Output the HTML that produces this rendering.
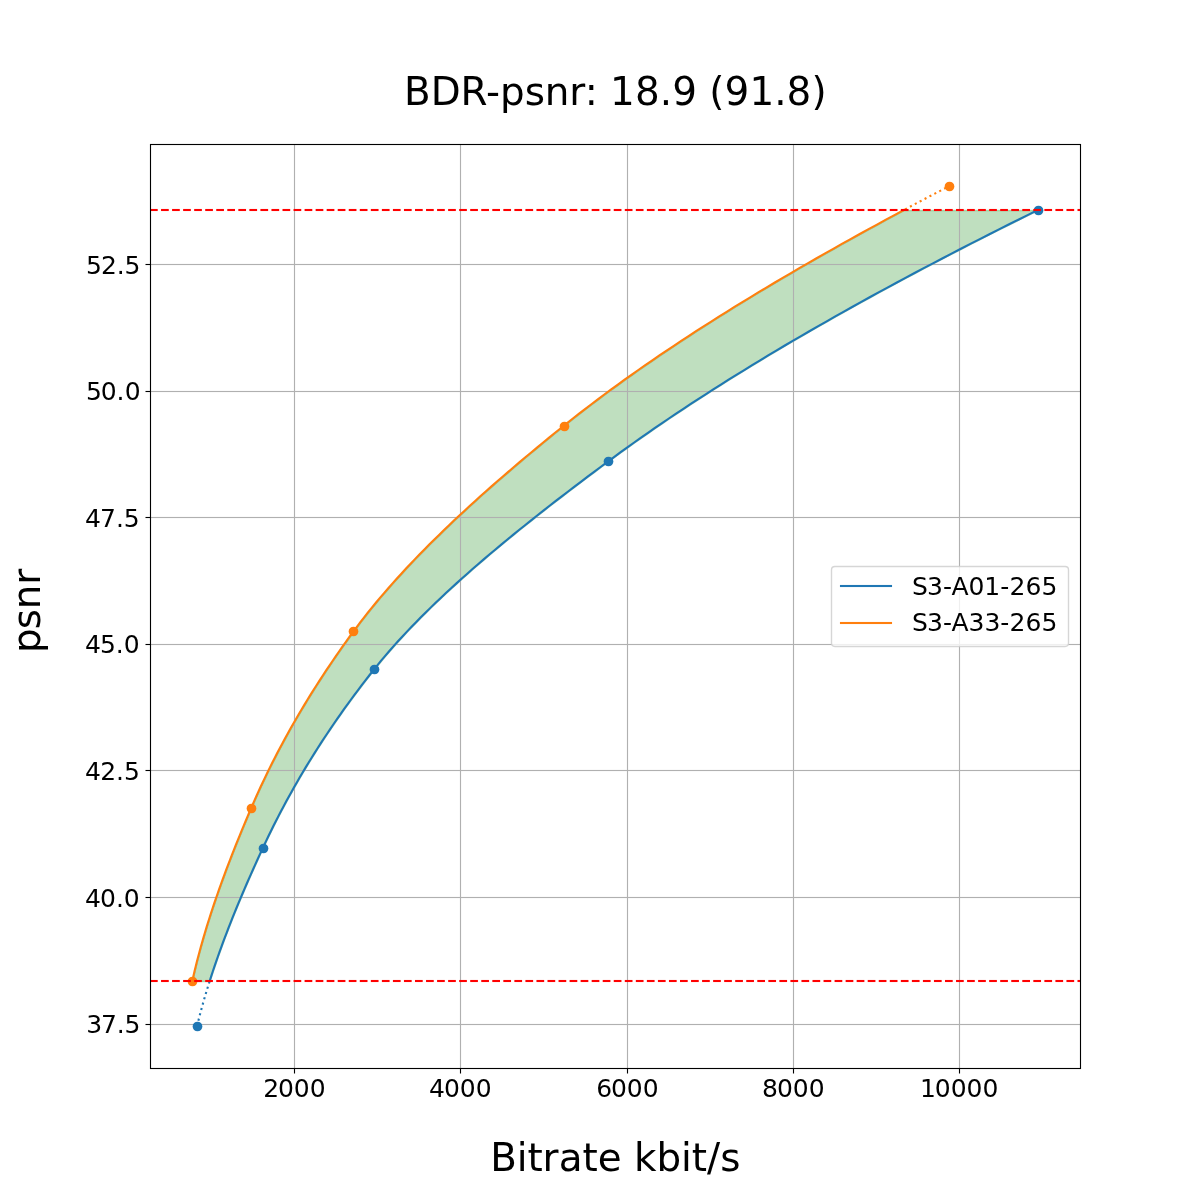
<!DOCTYPE html><html><head><meta charset="utf-8"><title>BDR-psnr</title><style>html,body{margin:0;padding:0;background:#fff}svg{display:block}text{font-family:"DejaVu Sans","Liberation Sans",sans-serif;fill:#000}.tk{font-size:25px}.lb{font-size:38.89px}</style></head><body>
<svg width="1200" height="1200" viewBox="0 0 1200 1200">
<rect width="1200" height="1200" fill="#fff"/>
<defs><clipPath id="ax"><rect x="150" y="144" width="931" height="925"/></clipPath></defs>
<g clip-path="url(#ax)">
<polygon transform="translate(0.5,0.5)" points="209.69,981.00 211.24,976.15 212.83,971.30 214.46,966.45 216.11,961.60 217.80,956.75 219.52,951.91 221.28,947.06 223.06,942.21 224.87,937.36 226.72,932.51 228.59,927.66 230.49,922.81 232.41,917.96 234.36,913.11 236.34,908.26 238.35,903.42 240.37,898.57 242.42,893.72 244.50,888.87 246.60,884.02 248.71,879.17 250.85,874.32 253.01,869.47 255.19,864.62 257.39,859.77 259.60,854.92 261.84,850.08 264.09,845.23 266.38,840.38 268.71,835.53 271.07,830.68 273.48,825.83 275.93,820.98 278.41,816.13 280.94,811.28 283.51,806.43 286.11,801.58 288.76,796.74 291.45,791.89 294.18,787.04 296.96,782.19 299.77,777.34 302.63,772.49 305.53,767.64 308.48,762.79 311.47,757.94 314.50,753.09 317.58,748.25 320.70,743.40 323.86,738.55 327.07,733.70 330.33,728.85 333.63,724.00 336.98,719.15 340.37,714.30 343.81,709.45 347.30,704.60 350.83,699.75 354.41,694.91 358.04,690.06 361.72,685.21 365.44,680.36 369.21,675.51 373.04,670.66 376.92,665.81 380.90,660.96 384.97,656.11 389.14,651.26 393.40,646.42 397.75,641.57 402.19,636.72 406.72,631.87 411.33,627.02 416.03,622.17 420.81,617.32 425.67,612.47 430.61,607.62 435.62,602.77 440.71,597.92 445.88,593.08 451.12,588.23 456.43,583.38 461.80,578.53 467.25,573.68 472.76,568.83 478.33,563.98 483.96,559.13 489.66,554.28 495.41,549.43 501.22,544.58 507.09,539.74 513.01,534.89 518.98,530.04 525.01,525.19 531.08,520.34 537.19,515.49 543.36,510.64 549.56,505.79 555.81,500.94 562.10,496.09 568.43,491.25 574.79,486.40 581.19,481.55 587.62,476.70 594.09,471.85 600.58,467.00 607.10,462.15 613.67,457.30 620.31,452.45 627.02,447.60 633.81,442.75 640.68,437.91 647.61,433.06 654.62,428.21 661.70,423.36 668.85,418.51 676.07,413.66 683.37,408.81 690.73,403.96 698.17,399.11 705.67,394.26 713.24,389.42 720.88,384.57 728.59,379.72 736.37,374.87 744.22,370.02 752.13,365.17 760.10,360.32 768.15,355.47 776.26,350.62 784.43,345.77 792.67,340.92 800.97,336.08 809.34,331.23 817.77,326.38 826.26,321.53 834.82,316.68 843.43,311.83 852.11,306.98 860.85,302.13 869.65,297.28 878.51,292.43 887.43,287.58 896.41,282.74 905.45,277.89 914.54,273.04 923.70,268.19 932.91,263.34 942.18,258.49 951.50,253.64 960.88,248.79 970.32,243.94 979.81,239.09 989.36,234.25 998.96,229.40 1008.61,224.55 1018.32,219.70 1028.08,214.85 1037.90,210.00 903.91,210.00 894.87,214.85 885.89,219.70 876.97,224.55 868.10,229.40 859.29,234.25 850.54,239.09 841.84,243.94 833.21,248.79 824.64,253.64 816.12,258.49 807.67,263.34 799.28,268.19 790.95,273.04 782.68,277.89 774.48,282.74 766.34,287.58 758.26,292.43 750.25,297.28 742.31,302.13 734.43,306.98 726.62,311.83 718.87,316.68 711.20,321.53 703.59,326.38 696.05,331.23 688.58,336.08 681.18,340.92 673.86,345.77 666.60,350.62 659.42,355.47 652.31,360.32 645.27,365.17 638.31,370.02 631.42,374.87 624.61,379.72 617.87,384.57 611.21,389.42 604.63,394.26 598.12,399.11 591.69,403.96 585.34,408.81 579.07,413.66 572.88,418.51 566.77,423.36 560.74,428.21 554.74,433.06 548.79,437.91 542.87,442.75 536.99,447.60 531.15,452.45 525.35,457.30 519.59,462.15 513.88,467.00 508.21,471.85 502.58,476.70 497.00,481.55 491.47,486.40 485.99,491.25 480.56,496.09 475.18,500.94 469.85,505.79 464.57,510.64 459.35,515.49 454.18,520.34 449.07,525.19 444.02,530.04 439.03,534.89 434.09,539.74 429.22,544.58 424.40,549.43 419.65,554.28 414.97,559.13 410.35,563.98 405.79,568.83 401.31,573.68 396.89,578.53 392.54,583.38 388.26,588.23 384.05,593.08 379.92,597.92 375.86,602.77 371.87,607.62 367.96,612.47 364.13,617.32 360.38,622.17 356.70,627.02 353.11,631.87 349.57,636.72 346.08,641.57 342.63,646.42 339.22,651.26 335.85,656.11 332.53,660.96 329.25,665.81 326.00,670.66 322.81,675.51 319.65,680.36 316.53,685.21 313.46,690.06 310.42,694.91 307.43,699.75 304.48,704.60 301.57,709.45 298.70,714.30 295.87,719.15 293.09,724.00 290.34,728.85 287.63,733.70 284.97,738.55 282.34,743.40 279.76,748.25 277.21,753.09 274.71,757.94 272.24,762.79 269.82,767.64 267.43,772.49 265.09,777.34 262.78,782.19 260.51,787.04 258.29,791.89 256.10,796.74 253.95,801.58 251.84,806.43 249.77,811.28 247.71,816.13 245.67,820.98 243.64,825.83 241.64,830.68 239.65,835.53 237.68,840.38 235.74,845.23 233.81,850.08 231.91,854.92 230.02,859.77 228.17,864.62 226.33,869.47 224.52,874.32 222.74,879.17 220.98,884.02 219.24,888.87 217.54,893.72 215.86,898.57 214.21,903.42 212.59,908.26 211.00,913.11 209.44,917.96 207.91,922.81 206.42,927.66 204.96,932.51 203.53,937.36 202.13,942.21 200.77,947.06 199.44,951.91 198.16,956.75 196.90,961.60 195.69,966.45 194.51,971.30 193.37,976.15 192.28,981.00" fill="#008000" fill-opacity="0.25" stroke="#008000" stroke-opacity="0.25" stroke-width="1.389" stroke-linejoin="round"/>
<g fill="#b0b0b0">
<rect x="293.937" y="144.5" width="1.126" height="924.0"/>
<rect x="459.937" y="144.5" width="1.126" height="924.0"/>
<rect x="626.937" y="144.5" width="1.126" height="924.0"/>
<rect x="792.937" y="144.5" width="1.126" height="924.0"/>
<rect x="958.937" y="144.5" width="1.126" height="924.0"/>
<rect x="150.5" y="263.937" width="930.0" height="1.126"/>
<rect x="150.5" y="390.937" width="930.0" height="1.126"/>
<rect x="150.5" y="516.937" width="930.0" height="1.126"/>
<rect x="150.5" y="643.937" width="930.0" height="1.126"/>
<rect x="150.5" y="769.937" width="930.0" height="1.126"/>
<rect x="150.5" y="896.937" width="930.0" height="1.126"/>
<rect x="150.5" y="1023.937" width="930.0" height="1.126"/>
</g>
<g fill="none" stroke-width="2.083" stroke-linejoin="round">
<polyline points="209.69,981.00 211.24,976.15 212.83,971.30 214.46,966.45 216.11,961.60 217.80,956.75 219.52,951.91 221.28,947.06 223.06,942.21 224.87,937.36 226.72,932.51 228.59,927.66 230.49,922.81 232.41,917.96 234.36,913.11 236.34,908.26 238.35,903.42 240.37,898.57 242.42,893.72 244.50,888.87 246.60,884.02 248.71,879.17 250.85,874.32 253.01,869.47 255.19,864.62 257.39,859.77 259.60,854.92 261.84,850.08 264.09,845.23 266.38,840.38 268.71,835.53 271.07,830.68 273.48,825.83 275.93,820.98 278.41,816.13 280.94,811.28 283.51,806.43 286.11,801.58 288.76,796.74 291.45,791.89 294.18,787.04 296.96,782.19 299.77,777.34 302.63,772.49 305.53,767.64 308.48,762.79 311.47,757.94 314.50,753.09 317.58,748.25 320.70,743.40 323.86,738.55 327.07,733.70 330.33,728.85 333.63,724.00 336.98,719.15 340.37,714.30 343.81,709.45 347.30,704.60 350.83,699.75 354.41,694.91 358.04,690.06 361.72,685.21 365.44,680.36 369.21,675.51 373.04,670.66 376.92,665.81 380.90,660.96 384.97,656.11 389.14,651.26 393.40,646.42 397.75,641.57 402.19,636.72 406.72,631.87 411.33,627.02 416.03,622.17 420.81,617.32 425.67,612.47 430.61,607.62 435.62,602.77 440.71,597.92 445.88,593.08 451.12,588.23 456.43,583.38 461.80,578.53 467.25,573.68 472.76,568.83 478.33,563.98 483.96,559.13 489.66,554.28 495.41,549.43 501.22,544.58 507.09,539.74 513.01,534.89 518.98,530.04 525.01,525.19 531.08,520.34 537.19,515.49 543.36,510.64 549.56,505.79 555.81,500.94 562.10,496.09 568.43,491.25 574.79,486.40 581.19,481.55 587.62,476.70 594.09,471.85 600.58,467.00 607.10,462.15 613.67,457.30 620.31,452.45 627.02,447.60 633.81,442.75 640.68,437.91 647.61,433.06 654.62,428.21 661.70,423.36 668.85,418.51 676.07,413.66 683.37,408.81 690.73,403.96 698.17,399.11 705.67,394.26 713.24,389.42 720.88,384.57 728.59,379.72 736.37,374.87 744.22,370.02 752.13,365.17 760.10,360.32 768.15,355.47 776.26,350.62 784.43,345.77 792.67,340.92 800.97,336.08 809.34,331.23 817.77,326.38 826.26,321.53 834.82,316.68 843.43,311.83 852.11,306.98 860.85,302.13 869.65,297.28 878.51,292.43 887.43,287.58 896.41,282.74 905.45,277.89 914.54,273.04 923.70,268.19 932.91,263.34 942.18,258.49 951.50,253.64 960.88,248.79 970.32,243.94 979.81,239.09 989.36,234.25 998.96,229.40 1008.61,224.55 1018.32,219.70 1028.08,214.85 1037.90,210.00" stroke="#1f77b4" stroke-linecap="square"/>
<polyline points="192.28,981.00 193.37,976.15 194.51,971.30 195.69,966.45 196.90,961.60 198.16,956.75 199.44,951.91 200.77,947.06 202.13,942.21 203.53,937.36 204.96,932.51 206.42,927.66 207.91,922.81 209.44,917.96 211.00,913.11 212.59,908.26 214.21,903.42 215.86,898.57 217.54,893.72 219.24,888.87 220.98,884.02 222.74,879.17 224.52,874.32 226.33,869.47 228.17,864.62 230.02,859.77 231.91,854.92 233.81,850.08 235.74,845.23 237.68,840.38 239.65,835.53 241.64,830.68 243.64,825.83 245.67,820.98 247.71,816.13 249.77,811.28 251.84,806.43 253.95,801.58 256.10,796.74 258.29,791.89 260.51,787.04 262.78,782.19 265.09,777.34 267.43,772.49 269.82,767.64 272.24,762.79 274.71,757.94 277.21,753.09 279.76,748.25 282.34,743.40 284.97,738.55 287.63,733.70 290.34,728.85 293.09,724.00 295.87,719.15 298.70,714.30 301.57,709.45 304.48,704.60 307.43,699.75 310.42,694.91 313.46,690.06 316.53,685.21 319.65,680.36 322.81,675.51 326.00,670.66 329.25,665.81 332.53,660.96 335.85,656.11 339.22,651.26 342.63,646.42 346.08,641.57 349.57,636.72 353.11,631.87 356.70,627.02 360.38,622.17 364.13,617.32 367.96,612.47 371.87,607.62 375.86,602.77 379.92,597.92 384.05,593.08 388.26,588.23 392.54,583.38 396.89,578.53 401.31,573.68 405.79,568.83 410.35,563.98 414.97,559.13 419.65,554.28 424.40,549.43 429.22,544.58 434.09,539.74 439.03,534.89 444.02,530.04 449.07,525.19 454.18,520.34 459.35,515.49 464.57,510.64 469.85,505.79 475.18,500.94 480.56,496.09 485.99,491.25 491.47,486.40 497.00,481.55 502.58,476.70 508.21,471.85 513.88,467.00 519.59,462.15 525.35,457.30 531.15,452.45 536.99,447.60 542.87,442.75 548.79,437.91 554.74,433.06 560.74,428.21 566.77,423.36 572.88,418.51 579.07,413.66 585.34,408.81 591.69,403.96 598.12,399.11 604.63,394.26 611.21,389.42 617.87,384.57 624.61,379.72 631.42,374.87 638.31,370.02 645.27,365.17 652.31,360.32 659.42,355.47 666.60,350.62 673.86,345.77 681.18,340.92 688.58,336.08 696.05,331.23 703.59,326.38 711.20,321.53 718.87,316.68 726.62,311.83 734.43,306.98 742.31,302.13 750.25,297.28 758.26,292.43 766.34,287.58 774.48,282.74 782.68,277.89 790.95,273.04 799.28,268.19 807.67,263.34 816.12,258.49 824.64,253.64 833.21,248.79 841.84,243.94 850.54,239.09 859.29,234.25 868.10,229.40 876.97,224.55 885.89,219.70 894.87,214.85 903.91,210.00" stroke="#ff7f0e" stroke-linecap="square"/>
<polyline points="197.05,1026.00 198.06,1021.91 199.10,1017.82 200.16,1013.73 201.26,1009.64 202.38,1005.55 203.53,1001.45 204.71,997.36 205.92,993.27 207.15,989.18 208.41,985.09 209.69,981.00" stroke="#1f77b4" stroke-dasharray="2.083 3.4375"/>
<polyline points="903.91,210.00 907.99,207.82 912.09,205.64 916.19,203.45 920.31,201.27 924.44,199.09 928.58,196.91 932.73,194.73 936.89,192.55 941.06,190.36 945.24,188.18 949.43,186.00" stroke="#ff7f0e" stroke-dasharray="2.083 3.4375" stroke-dashoffset="-1.34"/>
</g>
<circle cx="197.5" cy="1026.5" r="4.86" fill="#1f77b4"/>
<circle cx="263.5" cy="848.5" r="4.86" fill="#1f77b4"/>
<circle cx="374.5" cy="669.5" r="4.86" fill="#1f77b4"/>
<circle cx="608.5" cy="461.5" r="4.86" fill="#1f77b4"/>
<circle cx="1038.5" cy="210.5" r="4.86" fill="#1f77b4"/>
<circle cx="192.5" cy="981.5" r="4.86" fill="#ff7f0e"/>
<circle cx="251.5" cy="808.5" r="4.86" fill="#ff7f0e"/>
<circle cx="353.5" cy="631.5" r="4.86" fill="#ff7f0e"/>
<circle cx="564.5" cy="426.5" r="4.86" fill="#ff7f0e"/>
<circle cx="949.5" cy="186.5" r="4.86" fill="#ff7f0e"/>
<g fill="#ff0000">
<rect x="150.000" y="208.958" width="7.708" height="2.083"/>
<rect x="161.042" y="208.958" width="7.708" height="2.083"/>
<rect x="172.083" y="208.958" width="7.708" height="2.083"/>
<rect x="183.125" y="208.958" width="7.708" height="2.083"/>
<rect x="194.166" y="208.958" width="7.708" height="2.083"/>
<rect x="205.208" y="208.958" width="7.708" height="2.083"/>
<rect x="216.250" y="208.958" width="7.708" height="2.083"/>
<rect x="227.291" y="208.958" width="7.708" height="2.083"/>
<rect x="238.333" y="208.958" width="7.708" height="2.083"/>
<rect x="249.374" y="208.958" width="7.708" height="2.083"/>
<rect x="260.416" y="208.958" width="7.708" height="2.083"/>
<rect x="271.458" y="208.958" width="7.708" height="2.083"/>
<rect x="282.499" y="208.958" width="7.708" height="2.083"/>
<rect x="293.541" y="208.958" width="7.708" height="2.083"/>
<rect x="304.582" y="208.958" width="7.708" height="2.083"/>
<rect x="315.624" y="208.958" width="7.708" height="2.083"/>
<rect x="326.666" y="208.958" width="7.708" height="2.083"/>
<rect x="337.707" y="208.958" width="7.708" height="2.083"/>
<rect x="348.749" y="208.958" width="7.708" height="2.083"/>
<rect x="359.790" y="208.958" width="7.708" height="2.083"/>
<rect x="370.832" y="208.958" width="7.708" height="2.083"/>
<rect x="381.874" y="208.958" width="7.708" height="2.083"/>
<rect x="392.915" y="208.958" width="7.708" height="2.083"/>
<rect x="403.957" y="208.958" width="7.708" height="2.083"/>
<rect x="414.998" y="208.958" width="7.708" height="2.083"/>
<rect x="426.040" y="208.958" width="7.708" height="2.083"/>
<rect x="437.082" y="208.958" width="7.708" height="2.083"/>
<rect x="448.123" y="208.958" width="7.708" height="2.083"/>
<rect x="459.165" y="208.958" width="7.708" height="2.083"/>
<rect x="470.206" y="208.958" width="7.708" height="2.083"/>
<rect x="481.248" y="208.958" width="7.708" height="2.083"/>
<rect x="492.290" y="208.958" width="7.708" height="2.083"/>
<rect x="503.331" y="208.958" width="7.708" height="2.083"/>
<rect x="514.373" y="208.958" width="7.708" height="2.083"/>
<rect x="525.414" y="208.958" width="7.708" height="2.083"/>
<rect x="536.456" y="208.958" width="7.708" height="2.083"/>
<rect x="547.498" y="208.958" width="7.708" height="2.083"/>
<rect x="558.539" y="208.958" width="7.708" height="2.083"/>
<rect x="569.581" y="208.958" width="7.708" height="2.083"/>
<rect x="580.622" y="208.958" width="7.708" height="2.083"/>
<rect x="591.664" y="208.958" width="7.708" height="2.083"/>
<rect x="602.706" y="208.958" width="7.708" height="2.083"/>
<rect x="613.747" y="208.958" width="7.708" height="2.083"/>
<rect x="624.789" y="208.958" width="7.708" height="2.083"/>
<rect x="635.830" y="208.958" width="7.708" height="2.083"/>
<rect x="646.872" y="208.958" width="7.708" height="2.083"/>
<rect x="657.914" y="208.958" width="7.708" height="2.083"/>
<rect x="668.955" y="208.958" width="7.708" height="2.083"/>
<rect x="679.997" y="208.958" width="7.708" height="2.083"/>
<rect x="691.038" y="208.958" width="7.708" height="2.083"/>
<rect x="702.080" y="208.958" width="7.708" height="2.083"/>
<rect x="713.122" y="208.958" width="7.708" height="2.083"/>
<rect x="724.163" y="208.958" width="7.708" height="2.083"/>
<rect x="735.205" y="208.958" width="7.708" height="2.083"/>
<rect x="746.246" y="208.958" width="7.708" height="2.083"/>
<rect x="757.288" y="208.958" width="7.708" height="2.083"/>
<rect x="768.330" y="208.958" width="7.708" height="2.083"/>
<rect x="779.371" y="208.958" width="7.708" height="2.083"/>
<rect x="790.413" y="208.958" width="7.708" height="2.083"/>
<rect x="801.454" y="208.958" width="7.708" height="2.083"/>
<rect x="812.496" y="208.958" width="7.708" height="2.083"/>
<rect x="823.538" y="208.958" width="7.708" height="2.083"/>
<rect x="834.579" y="208.958" width="7.708" height="2.083"/>
<rect x="845.621" y="208.958" width="7.708" height="2.083"/>
<rect x="856.662" y="208.958" width="7.708" height="2.083"/>
<rect x="867.704" y="208.958" width="7.708" height="2.083"/>
<rect x="878.746" y="208.958" width="7.708" height="2.083"/>
<rect x="889.787" y="208.958" width="7.708" height="2.083"/>
<rect x="900.829" y="208.958" width="7.708" height="2.083"/>
<rect x="911.870" y="208.958" width="7.708" height="2.083"/>
<rect x="922.912" y="208.958" width="7.708" height="2.083"/>
<rect x="933.954" y="208.958" width="7.708" height="2.083"/>
<rect x="944.995" y="208.958" width="7.708" height="2.083"/>
<rect x="956.037" y="208.958" width="7.708" height="2.083"/>
<rect x="967.078" y="208.958" width="7.708" height="2.083"/>
<rect x="978.120" y="208.958" width="7.708" height="2.083"/>
<rect x="989.162" y="208.958" width="7.708" height="2.083"/>
<rect x="1000.203" y="208.958" width="7.708" height="2.083"/>
<rect x="1011.245" y="208.958" width="7.708" height="2.083"/>
<rect x="1022.286" y="208.958" width="7.708" height="2.083"/>
<rect x="1033.328" y="208.958" width="7.708" height="2.083"/>
<rect x="1044.370" y="208.958" width="7.708" height="2.083"/>
<rect x="1055.411" y="208.958" width="7.708" height="2.083"/>
<rect x="1066.453" y="208.958" width="7.708" height="2.083"/>
<rect x="1077.494" y="208.958" width="3.506" height="2.083"/>
<rect x="150.000" y="979.958" width="7.708" height="2.083"/>
<rect x="161.042" y="979.958" width="7.708" height="2.083"/>
<rect x="172.083" y="979.958" width="7.708" height="2.083"/>
<rect x="183.125" y="979.958" width="7.708" height="2.083"/>
<rect x="194.166" y="979.958" width="7.708" height="2.083"/>
<rect x="205.208" y="979.958" width="7.708" height="2.083"/>
<rect x="216.250" y="979.958" width="7.708" height="2.083"/>
<rect x="227.291" y="979.958" width="7.708" height="2.083"/>
<rect x="238.333" y="979.958" width="7.708" height="2.083"/>
<rect x="249.374" y="979.958" width="7.708" height="2.083"/>
<rect x="260.416" y="979.958" width="7.708" height="2.083"/>
<rect x="271.458" y="979.958" width="7.708" height="2.083"/>
<rect x="282.499" y="979.958" width="7.708" height="2.083"/>
<rect x="293.541" y="979.958" width="7.708" height="2.083"/>
<rect x="304.582" y="979.958" width="7.708" height="2.083"/>
<rect x="315.624" y="979.958" width="7.708" height="2.083"/>
<rect x="326.666" y="979.958" width="7.708" height="2.083"/>
<rect x="337.707" y="979.958" width="7.708" height="2.083"/>
<rect x="348.749" y="979.958" width="7.708" height="2.083"/>
<rect x="359.790" y="979.958" width="7.708" height="2.083"/>
<rect x="370.832" y="979.958" width="7.708" height="2.083"/>
<rect x="381.874" y="979.958" width="7.708" height="2.083"/>
<rect x="392.915" y="979.958" width="7.708" height="2.083"/>
<rect x="403.957" y="979.958" width="7.708" height="2.083"/>
<rect x="414.998" y="979.958" width="7.708" height="2.083"/>
<rect x="426.040" y="979.958" width="7.708" height="2.083"/>
<rect x="437.082" y="979.958" width="7.708" height="2.083"/>
<rect x="448.123" y="979.958" width="7.708" height="2.083"/>
<rect x="459.165" y="979.958" width="7.708" height="2.083"/>
<rect x="470.206" y="979.958" width="7.708" height="2.083"/>
<rect x="481.248" y="979.958" width="7.708" height="2.083"/>
<rect x="492.290" y="979.958" width="7.708" height="2.083"/>
<rect x="503.331" y="979.958" width="7.708" height="2.083"/>
<rect x="514.373" y="979.958" width="7.708" height="2.083"/>
<rect x="525.414" y="979.958" width="7.708" height="2.083"/>
<rect x="536.456" y="979.958" width="7.708" height="2.083"/>
<rect x="547.498" y="979.958" width="7.708" height="2.083"/>
<rect x="558.539" y="979.958" width="7.708" height="2.083"/>
<rect x="569.581" y="979.958" width="7.708" height="2.083"/>
<rect x="580.622" y="979.958" width="7.708" height="2.083"/>
<rect x="591.664" y="979.958" width="7.708" height="2.083"/>
<rect x="602.706" y="979.958" width="7.708" height="2.083"/>
<rect x="613.747" y="979.958" width="7.708" height="2.083"/>
<rect x="624.789" y="979.958" width="7.708" height="2.083"/>
<rect x="635.830" y="979.958" width="7.708" height="2.083"/>
<rect x="646.872" y="979.958" width="7.708" height="2.083"/>
<rect x="657.914" y="979.958" width="7.708" height="2.083"/>
<rect x="668.955" y="979.958" width="7.708" height="2.083"/>
<rect x="679.997" y="979.958" width="7.708" height="2.083"/>
<rect x="691.038" y="979.958" width="7.708" height="2.083"/>
<rect x="702.080" y="979.958" width="7.708" height="2.083"/>
<rect x="713.122" y="979.958" width="7.708" height="2.083"/>
<rect x="724.163" y="979.958" width="7.708" height="2.083"/>
<rect x="735.205" y="979.958" width="7.708" height="2.083"/>
<rect x="746.246" y="979.958" width="7.708" height="2.083"/>
<rect x="757.288" y="979.958" width="7.708" height="2.083"/>
<rect x="768.330" y="979.958" width="7.708" height="2.083"/>
<rect x="779.371" y="979.958" width="7.708" height="2.083"/>
<rect x="790.413" y="979.958" width="7.708" height="2.083"/>
<rect x="801.454" y="979.958" width="7.708" height="2.083"/>
<rect x="812.496" y="979.958" width="7.708" height="2.083"/>
<rect x="823.538" y="979.958" width="7.708" height="2.083"/>
<rect x="834.579" y="979.958" width="7.708" height="2.083"/>
<rect x="845.621" y="979.958" width="7.708" height="2.083"/>
<rect x="856.662" y="979.958" width="7.708" height="2.083"/>
<rect x="867.704" y="979.958" width="7.708" height="2.083"/>
<rect x="878.746" y="979.958" width="7.708" height="2.083"/>
<rect x="889.787" y="979.958" width="7.708" height="2.083"/>
<rect x="900.829" y="979.958" width="7.708" height="2.083"/>
<rect x="911.870" y="979.958" width="7.708" height="2.083"/>
<rect x="922.912" y="979.958" width="7.708" height="2.083"/>
<rect x="933.954" y="979.958" width="7.708" height="2.083"/>
<rect x="944.995" y="979.958" width="7.708" height="2.083"/>
<rect x="956.037" y="979.958" width="7.708" height="2.083"/>
<rect x="967.078" y="979.958" width="7.708" height="2.083"/>
<rect x="978.120" y="979.958" width="7.708" height="2.083"/>
<rect x="989.162" y="979.958" width="7.708" height="2.083"/>
<rect x="1000.203" y="979.958" width="7.708" height="2.083"/>
<rect x="1011.245" y="979.958" width="7.708" height="2.083"/>
<rect x="1022.286" y="979.958" width="7.708" height="2.083"/>
<rect x="1033.328" y="979.958" width="7.708" height="2.083"/>
<rect x="1044.370" y="979.958" width="7.708" height="2.083"/>
<rect x="1055.411" y="979.958" width="7.708" height="2.083"/>
<rect x="1066.453" y="979.958" width="7.708" height="2.083"/>
<rect x="1077.494" y="979.958" width="3.506" height="2.083"/>
</g>
</g>
<g fill="#000">
<rect x="293.945" y="1068.5" width="1.111" height="5"/>
<rect x="459.945" y="1068.5" width="1.111" height="5"/>
<rect x="626.944" y="1068.5" width="1.111" height="5"/>
<rect x="792.944" y="1068.5" width="1.111" height="5"/>
<rect x="958.944" y="1068.5" width="1.111" height="5"/>
<rect x="145.5" y="263.945" width="5" height="1.111"/>
<rect x="145.5" y="390.945" width="5" height="1.111"/>
<rect x="145.5" y="516.944" width="5" height="1.111"/>
<rect x="145.5" y="643.944" width="5" height="1.111"/>
<rect x="145.5" y="769.944" width="5" height="1.111"/>
<rect x="145.5" y="896.944" width="5" height="1.111"/>
<rect x="145.5" y="1023.944" width="5" height="1.111"/>
</g>
<rect x="150.5" y="144.5" width="930.0" height="924.0" fill="none" stroke="#000" stroke-width="1.11" stroke-linejoin="miter"/>
<text id="x294" class="tk" x="263.19 278.10 293.85 309.74" y="1097.00">2000</text>
<text id="x460" class="tk" x="429.12 444.10 459.85 475.74" y="1097.00">4000</text>
<text id="x627" class="tk" x="596.13 611.10 626.85 642.74" y="1097.00">6000</text>
<text id="x793" class="tk" x="762.12 777.10 792.85 808.74" y="1097.00">8000</text>
<text id="x959" class="tk" x="920.00 934.83 950.72 966.61 982.45" y="1097.00">10000</text>
<text id="y264" class="tk" x="85.94 100.88 116.66 124.62" y="274.00">52.5</text>
<text id="y391" class="tk" x="85.94 100.76 116.60 124.68" y="400.00">50.0</text>
<text id="y517" class="tk" x="85.08 100.02 115.93 123.86" y="527.00">47.5</text>
<text id="y644" class="tk" x="85.08 99.96 115.66 123.86" y="653.00">45.0</text>
<text id="y770" class="tk" x="85.08 100.17 115.95 123.94" y="780.00">42.5</text>
<text id="y897" class="tk" x="85.08 99.94 115.93 123.86" y="907.00">40.0</text>
<text id="y1024" class="tk" x="86.14 100.92 116.66 124.62" y="1033.00">37.5</text>
<text id="title" class="lb" x="404.06 430.67 460.62 486.05 500.08 524.73 544.84 569.30 584.69 597.81 610.09 634.95 659.71 672.15 696.89 709.32 724.62 749.38 774.17 786.61 811.43" y="105.00">BDR-psnr: 18.9 (91.8)</text>
<text id="xlabel" class="lb" x="490.17 516.69 527.41 542.49 558.67 582.48 597.77 621.70 634.00 656.55 681.07 691.73 706.98 720.14" y="1171.00">Bitrate kbit/s</text>
<text id="ylabel" class="lb" transform="translate(40.00,0) rotate(-90)" x="-652.91 -629.32 -609.17 -584.64" y="0">psnr</text>
<rect x="831.5" y="566.5" width="237.0" height="80.0" rx="3.4" ry="3.4" fill="#fff" fill-opacity="0.8" stroke="#ccc" stroke-opacity="0.8" stroke-width="1.39"/>
<rect x="839.958" y="584.958" width="52.083" height="2.083" fill="#1f77b4"/>
<rect x="839.958" y="621.958" width="52.083" height="2.083" fill="#ff7f0e"/>
<text id="leg1" class="tk" x="912.04 926.88 942.95 951.42 968.58 984.31 1000.32 1009.50 1025.45 1041.41" y="595.00">S3-A01-265</text>
<text id="leg2" class="tk" x="912.04 926.88 942.95 951.42 968.60 984.41 1000.32 1009.50 1025.45 1041.41" y="631.00">S3-A33-265</text>
</svg></body></html>
